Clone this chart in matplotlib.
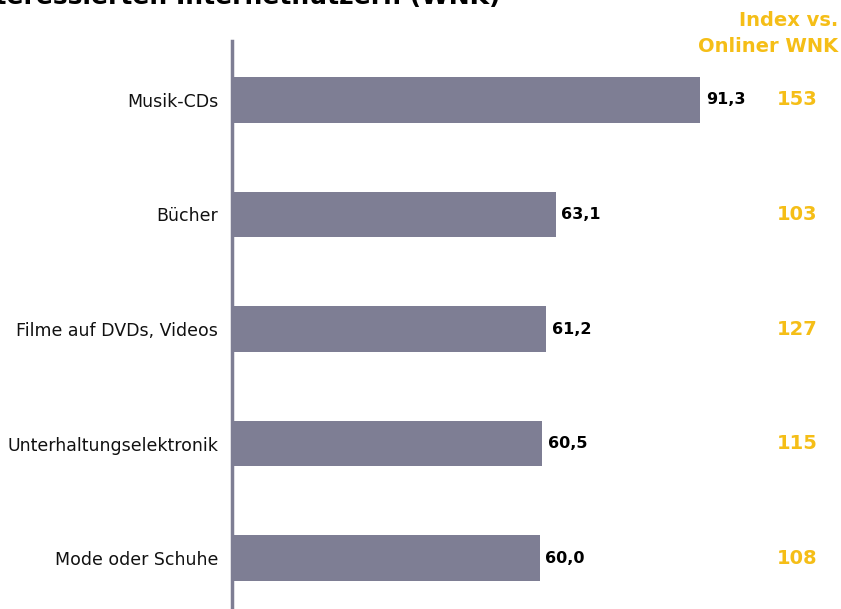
import matplotlib.pyplot as plt
import matplotlib.transforms as mtransforms

# categories top to bottom
categories = ["Musik-CDs", "Bücher", "Filme auf DVDs, Videos",
              "Unterhaltungselektronik", "Mode oder Schuhe"]
values = [91.3, 63.1, 61.2, 60.5, 60.0]
index_vs_onliner = [153, 103, 127, 115, 108]

bar_color = "#7E7E94"
gold = "#F5BE17"

plt.rcParams["font.family"] = "DejaVu Sans"

W, H = 841, 609
fig = plt.figure(figsize=(W / 100, H / 100), dpi=100)

# axes placed in pixel terms: zero line at x=232, from y=41 down to the bottom edge
left, top = 232, 41
ax = fig.add_axes([left / W, 0, 1 - left / W, 1 - top / H])

ypos = list(range(len(categories)))
ax.barh(ypos, values, height=0.40, color=bar_color, zorder=2)

ax.set_xlim(0, (W - left) / 5.13)
ax.set_ylim(4.444, -0.514)

for s in ["top", "right", "bottom"]:
    ax.spines[s].set_visible(False)
ax.spines["left"].set_color(bar_color)
ax.spines["left"].set_linewidth(2.5)
ax.set_xticks([])
ax.set_yticks(ypos)
ax.set_yticklabels(categories, fontsize=12.5, color="#111111")
ax.tick_params(axis="y", length=0, pad=10)

# value labels right of each bar
for y, v in zip(ypos, values):
    ax.annotate(f"{v:.1f}".replace(".", ","), (v, y), xytext=(4, 0),
                textcoords="offset points", va="center", ha="left",
                fontsize=11.5, fontweight="bold", color="black")

# index column
trans = mtransforms.blended_transform_factory(ax.transAxes, ax.transData)
for y, idx in zip(ypos, index_vs_onliner):
    ax.text(0.928, y, str(idx), transform=trans, ha="center", va="center",
            fontsize=14, fontweight="bold", color=gold)

fig.text(838 / W, 1 - 21 / H, "Index vs.", ha="right", va="center",
         fontsize=14, fontweight="bold", color=gold)
fig.text(838 / W, 1 - 47 / H, "Onliner WNK", ha="right", va="center",
         fontsize=14, fontweight="bold", color=gold)

# title runs off the top edge
fig.text(500 / W, 1 - 4 / H, "interessierten Internetnutzern (WNK)",
         ha="right", va="baseline", fontsize=18, fontweight="bold",
         color="black")

fig.savefig("out.png", dpi=100)
